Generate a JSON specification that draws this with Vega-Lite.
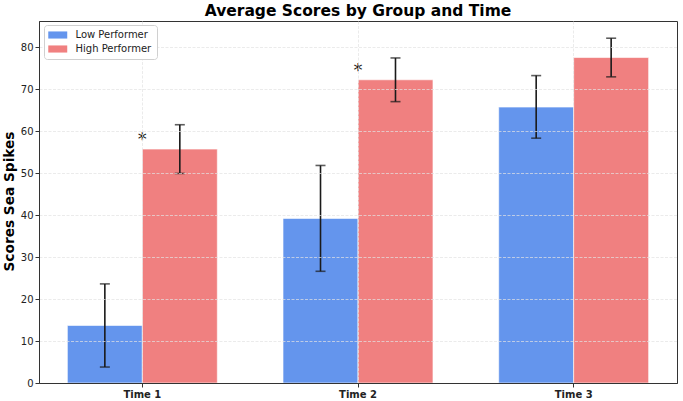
{
  "$schema": "https://vega.github.io/schema/vega-lite/v6.json",
  "width": 638,
  "height": 362,
  "autosize": {"type": "none"},
  "padding": {"left": 39, "top": 21, "right": 6, "bottom": 18},
  "background": "white",
  "title": {
    "text": "Average Scores by Group and Time",
    "font": "DejaVu Sans",
    "fontSize": 15.5,
    "fontWeight": "bold",
    "color": "#000000",
    "anchor": "middle",
    "offset": 2
  },
  "config": {
    "font": "DejaVu Sans",
    "view": {"stroke": "#333333", "strokeWidth": 1}
  },
  "data": {
    "values": [
      {"time": "Time 1", "group": "Low Performer", "mean": 13.7, "lo": 3.8, "hi": 23.6, "sig": ""},
      {"time": "Time 1", "group": "High Performer", "mean": 55.7, "lo": 49.9, "hi": 61.5, "sig": "*"},
      {"time": "Time 2", "group": "Low Performer", "mean": 39.2, "lo": 26.6, "hi": 51.8, "sig": ""},
      {"time": "Time 2", "group": "High Performer", "mean": 72.2, "lo": 67.0, "hi": 77.4, "sig": "*"},
      {"time": "Time 3", "group": "Low Performer", "mean": 65.7, "lo": 58.3, "hi": 73.2, "sig": ""},
      {"time": "Time 3", "group": "High Performer", "mean": 77.5, "lo": 72.9, "hi": 82.1, "sig": ""}
    ]
  },
  "encoding": {
    "x": {
      "field": "time",
      "type": "nominal",
      "scale": {"paddingInner": 0.3047, "paddingOuter": 0.1315},
      "axis": {
        "title": null,
        "labelAngle": 0,
        "labelFont": "DejaVu Sans",
        "labelFontSize": 10,
        "labelFontWeight": "bold",
        "labelColor": "#222222",
        "labelPadding": 2,
        "tickSize": 4,
        "tickColor": "#333333",
        "domainColor": "#333333",
        "grid": true,
        "gridColor": "#e2e2e2",
        "gridDash": [3, 1.5],
        "gridOpacity": 0.7,
        "zindex": 1
      }
    }
  },
  "layer": [
    {
      "mark": {"type": "bar", "stroke": "white", "strokeWidth": 0.6},
      "encoding": {
        "xOffset": {
          "field": "group",
          "type": "nominal",
          "sort": ["Low Performer", "High Performer"],
          "scale": {"paddingInner": 0, "paddingOuter": 0}
        },
        "y": {
          "field": "mean",
          "type": "quantitative",
          "scale": {"domain": [0, 86.2], "nice": false, "zero": true},
          "axis": {
            "title": "Scores Sea Spikes",
            "titleFont": "DejaVu Sans",
            "titleFontSize": 13.7,
            "titleFontWeight": "bold",
            "titleColor": "#000000",
            "titleAngle": -90,
            "titleAlign": "center",
            "titleBaseline": "middle",
            "titleX": -29.5,
            "titleY": 180,
            "values": [0, 10, 20, 30, 40, 50, 60, 70, 80],
            "labelFont": "DejaVu Sans",
            "labelFontSize": 10,
            "labelColor": "#222222",
            "labelPadding": 2,
            "tickSize": 4,
            "tickColor": "#333333",
            "domainColor": "#333333",
            "grid": true,
            "gridColor": "#e2e2e2",
            "gridDash": [3, 1.5],
            "gridOpacity": 0.7,
            "zindex": 1
          }
        },
        "color": {
          "field": "group",
          "type": "nominal",
          "scale": {
            "domain": ["Low Performer", "High Performer"],
            "range": ["#6495ED", "#F08080"]
          },
          "legend": {
            "title": null,
            "orient": "none",
            "legendX": 5,
            "legendY": 4,
            "symbolType": "M-2,-0.75H2V0.75H-2Z",
            "symbolSize": 90,
            "symbolStrokeWidth": 0,
            "symbolOffset": 3.75,
            "labelOffset": 12.75,
            "labelFont": "DejaVu Sans",
            "labelFontSize": 10,
            "labelColor": "#222222",
            "padding": 5,
            "rowPadding": 4,
            "strokeColor": "#d0d0d0",
            "fillColor": "white",
            "cornerRadius": 3,
            "zindex": 2
          }
        }
      }
    },
    {
      "mark": {"type": "rule", "color": "#1a1a1a", "strokeWidth": 1.6},
      "encoding": {
        "xOffset": {"field": "group", "type": "nominal", "sort": ["Low Performer", "High Performer"]},
        "y": {"field": "lo", "type": "quantitative"},
        "y2": {"field": "hi"}
      }
    },
    {
      "mark": {"type": "tick", "color": "#1a1a1a", "thickness": 1.6, "size": 10, "orient": "horizontal"},
      "encoding": {
        "xOffset": {"field": "group", "type": "nominal", "sort": ["Low Performer", "High Performer"]},
        "y": {"field": "hi", "type": "quantitative"}
      }
    },
    {
      "mark": {"type": "tick", "color": "#1a1a1a", "thickness": 1.6, "size": 10, "orient": "horizontal"},
      "encoding": {
        "xOffset": {"field": "group", "type": "nominal", "sort": ["Low Performer", "High Performer"]},
        "y": {"field": "lo", "type": "quantitative"}
      }
    },
    {
      "transform": [{"filter": "datum.sig === '*'"}],
      "mark": {"type": "text", "font": "DejaVu Sans", "fontSize": 18, "color": "#1a1a1a", "baseline": "middle", "dy": -9},
      "encoding": {
        "y": {"field": "mean", "type": "quantitative"},
        "text": {"field": "sig"}
      }
    }
  ]
}
